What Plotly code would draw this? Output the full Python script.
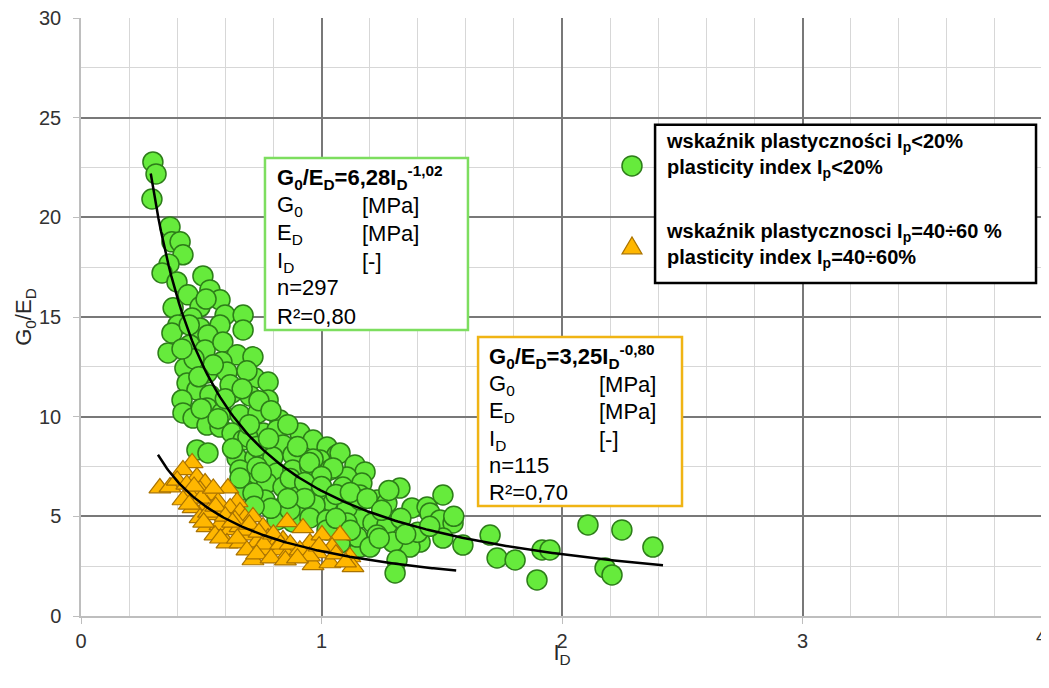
import numpy as np
import plotly.graph_objects as go

# ---- data: plasticity index Ip < 20 % (green circles) ----
green_x = [0.299, 0.312, 0.295, 0.370, 0.378, 0.412, 0.424, 0.366, 0.337, 0.507,
           0.399, 0.536, 0.445, 0.578, 0.383, 0.495, 0.599, 0.674, 0.462, 0.403,
           0.578, 0.674, 0.495, 0.528, 0.378, 0.362, 0.453, 0.516, 0.590, 0.649,
           0.715, 0.586, 0.432, 0.524, 0.607, 0.723, 0.778, 0.441, 0.482, 0.536,
           0.628, 0.703, 0.778, 0.420, 0.424, 0.524, 0.586, 0.661, 0.736, 0.827,
           0.466, 0.524, 0.578, 0.628, 0.674, 0.757, 0.815, 0.840, 0.911, 0.965,
           1.023, 1.064, 0.649, 0.723, 0.798, 0.881, 0.994, 0.661, 0.732, 0.815,
           0.881, 0.952, 1.035, 0.690, 0.773, 0.840, 0.898, 0.965, 1.023, 0.765,
           0.840, 0.923, 0.994, 1.048, 0.815, 0.881, 0.482, 0.528, 0.694, 1.077,
           1.139, 1.181, 1.106, 1.168, 1.231, 1.326, 1.272, 1.376, 1.439, 0.682,
           0.973, 1.098, 1.160, 1.214, 1.272, 0.952, 1.048, 1.160, 1.023, 1.505,
           1.451, 1.493, 1.547, 1.588, 1.505, 1.410, 1.368, 1.297, 1.231, 1.160,
           1.314, 1.306, 1.701, 1.730, 1.805, 1.896, 1.917, 1.950, 2.108, 2.249,
           2.378, 2.179, 2.208, 0.661, 0.965, 1.106, 1.160, 0.869, 1.023, 1.106,
           1.148, 1.077, 1.202, 0.715, 1.089,
           0.470, 0.550, 0.620, 0.690, 0.500, 0.600, 0.700, 0.740, 0.790, 0.860,
           0.630, 0.730, 0.780, 0.900, 0.950, 1.000, 0.750, 0.870, 0.930, 1.000,
           1.060, 1.120, 1.190, 1.250, 1.330, 1.400, 0.930, 0.860, 0.790, 0.720,
           1.060, 1.120, 1.240, 1.350, 1.450, 1.550, 0.450, 0.520, 0.420, 0.490,
           0.570, 0.670, 1.280]
green_y = [22.78, 22.18, 20.92, 19.52, 18.77, 18.77, 18.12, 17.66, 17.21, 17.06,
           16.76, 16.36, 16.11, 15.86, 15.46, 15.51, 15.10, 15.10, 14.95, 14.60,
           14.60, 14.35, 14.45, 14.10, 14.20, 13.20, 13.60, 13.35, 13.75, 13.10,
           13.00, 12.75, 12.44, 12.19, 12.24, 11.94, 11.74, 11.69, 11.34, 11.09,
           11.19, 11.04, 10.84, 10.84, 10.19, 10.44, 10.19, 10.09, 10.19, 9.83,
           9.93, 9.58, 9.48, 9.18, 8.83, 9.18, 9.33, 8.58, 9.18, 8.83,
           8.48, 8.08, 7.93, 7.93, 7.98, 8.08, 7.83, 7.33, 7.48, 7.18,
           7.33, 7.48, 7.33, 6.67, 6.67, 6.47, 6.17, 6.32, 5.97, 5.82,
           5.47, 5.32, 5.22, 5.67, 4.82, 4.72, 8.33, 8.18, 8.98, 8.18,
           7.58, 7.23, 6.97, 6.67, 5.82, 6.42, 5.67, 5.42, 5.47, 6.32,
           5.57, 5.22, 4.92, 4.67, 4.57, 4.92, 7.43, 6.07, 4.82, 6.07,
           5.17, 4.82, 4.67, 3.56, 3.91, 3.71, 3.46, 3.71, 4.06, 3.46,
           2.81, 2.16, 4.06, 2.91, 2.81, 1.81, 3.31, 3.31, 4.57, 4.32,
           3.46, 2.41, 2.06, 6.92, 7.88, 5.42, 5.82, 5.32, 4.32, 4.67,
           3.96, 3.66, 3.46, 6.17, 6.47,
           12.90, 12.60, 11.60, 12.30, 10.40, 10.90, 9.60, 10.80, 10.30, 9.60,
           8.40, 8.50, 8.90, 8.50, 7.70, 7.00, 7.20, 6.90, 6.70, 6.50,
           6.10, 6.20, 5.90, 5.30, 4.90, 4.20, 5.90, 5.90, 5.40, 5.50,
           4.90, 4.30, 3.90, 4.10, 4.50, 5.00, 14.60, 15.90, 13.40, 12.00,
           9.90, 11.40, 6.30]

# ---- data: plasticity index Ip = 40-60 % (orange triangles) ----
orange_x = [0.462, 0.424, 0.328, 0.370, 0.482, 0.516, 0.495, 0.453, 0.424, 0.545,
            0.611, 0.570, 0.524, 0.466, 0.649, 0.620, 0.495, 0.565, 0.661, 0.682,
            0.715, 0.524, 0.578, 0.620, 0.661, 0.703, 0.757, 0.732, 0.607, 0.661,
            0.778, 0.798, 0.715, 0.773, 0.840, 0.857, 0.923, 0.827, 0.881, 0.857,
            0.952, 1.002, 1.077, 0.981, 1.044, 0.965, 1.035, 1.118, 1.131, 0.557,
            0.640,
            0.400, 0.440, 0.500, 0.530, 0.560, 0.600, 0.630, 0.680, 0.700, 0.740,
            0.760, 0.800, 0.830, 0.870, 0.910, 0.950, 0.990, 1.060, 1.100, 0.580,
            0.650, 0.690, 0.730, 0.790, 0.850, 0.900, 0.550, 0.470, 0.510, 0.450]
orange_y = [7.68, 7.33, 6.42, 6.47, 6.97, 6.67, 6.32, 6.07, 5.82, 6.07,
            6.42, 5.72, 5.57, 5.42, 5.72, 5.42, 4.92, 5.07, 5.22, 4.92,
            4.97, 4.47, 4.57, 4.32, 4.47, 4.06, 4.47, 3.71, 3.66, 3.66,
            3.91, 3.46, 2.81, 3.31, 3.81, 4.72, 4.42, 3.31, 3.41, 3.06,
            3.66, 4.06, 4.06, 3.16, 3.46, 2.56, 2.66, 2.96, 2.46, 4.06,
            4.82,
            6.80, 6.60, 5.90, 5.20, 5.50, 5.00, 4.70, 4.30, 4.60, 4.20,
            3.60, 4.10, 3.60, 3.60, 3.30, 3.00, 3.50, 3.10, 2.70, 3.90,
            3.90, 3.30, 3.10, 2.90, 2.80, 2.90, 6.40, 6.50, 4.70, 5.60]

# ---- power-law fits shown on the chart: y = a * x^b ----
fit_green = dict(a=6.28, b=-1.02, x_from=0.29, x_to=2.42)
fit_orange = dict(a=3.25, b=-0.80, x_from=0.32, x_to=1.56)

x_ticks = [0, 1, 2, 3, 4]
y_ticks = [0, 5, 10, 15, 20, 25, 30]

FONT = "Liberation Sans, Arial, sans-serif"
GREEN_FILL = "rgb(102,235,60)"
GREEN_LINE = "rgb(45,125,25)"
ORANGE_FILL = "rgb(255,183,0)"
ORANGE_LINE = "rgb(170,115,0)"
TICK_COLOR = "rgb(50,50,50)"

fig = go.Figure()

fig.add_trace(go.Scatter(
    x=green_x, y=green_y, mode="markers",
    marker=dict(symbol="circle", size=20, color=GREEN_FILL,
                line=dict(color=GREEN_LINE, width=1.5)),
    showlegend=False, hoverinfo="x+y"))

fig.add_trace(go.Scatter(
    x=orange_x, y=orange_y, mode="markers",
    marker=dict(symbol="triangle-up", size=19, color=ORANGE_FILL,
                line=dict(color=ORANGE_LINE, width=1.2)),
    showlegend=False, hoverinfo="x+y"))

for f in (fit_green, fit_orange):
    xs = np.linspace(f["x_from"], f["x_to"], 200)
    ys = f["a"] * xs ** f["b"]
    fig.add_trace(go.Scatter(x=xs, y=ys, mode="lines",
                             line=dict(color="black", width=2.5),
                             showlegend=False, hoverinfo="skip"))

# ---- equation boxes ----
def eq_box(x0, x1, y0, y1, color, lines, xl, xu, ys, size=22):
    fig.add_shape(type="rect", xref="x", yref="y", x0=x0, x1=x1, y0=y0, y1=y1,
                  line=dict(color=color, width=2.5), fillcolor="white", layer="above")
    for (left, unit), yy in zip(lines, ys):
        fig.add_annotation(x=xl, y=yy, xref="x", yref="y", text=left, showarrow=False,
                           xanchor="left", yanchor="middle",
                           font=dict(family=FONT, size=size, color="black"))
        if unit:
            fig.add_annotation(x=xu, y=yy, xref="x", yref="y", text=unit, showarrow=False,
                               xanchor="left", yanchor="middle",
                               font=dict(family=FONT, size=size, color="black"))

lines1 = [("<b>G<sub>0</sub>/E<sub>D</sub>=6,28I<sub>D</sub><sup>-1,02</sup></b>", ""),
          ("G<sub>0</sub>", "[MPa]"), ("E<sub>D</sub>", "[MPa]"), ("I<sub>D</sub>", "[-]"),
          ("n=297", ""), ("R²=0,80", "")]
eq_box(0.765, 1.609, 14.35, 22.98, "rgb(125,222,95)", lines1, 0.805, 1.160,
       [21.98, 20.57, 19.17, 17.76, 16.46, 15.05])

lines2 = [("<b>G<sub>0</sub>/E<sub>D</sub>=3,25I<sub>D</sub><sup>-0,80</sup></b>", ""),
          ("G<sub>0</sub>", "[MPa]"), ("E<sub>D</sub>", "[MPa]"), ("I<sub>D</sub>", "[-]"),
          ("n=115", ""), ("R²=0,70", "")]
eq_box(1.651, 2.499, 5.52, 14.0, "rgb(240,180,20)", lines2, 1.690, 2.146,
       [13.0, 11.59, 10.24, 8.83, 7.53, 6.22])

# ---- custom legend ----
fig.add_shape(type="rect", xref="x", yref="y", x0=2.387, x1=3.971, y0=16.71, y1=24.64,
              line=dict(color="black", width=2.5), fillcolor="white", layer="above")
fig.add_annotation(x=2.425, y=23.1, xref="x", yref="y", showarrow=False,
                   xanchor="left", yanchor="middle", align="left",
                   text="<b>wskaźnik plastyczności I<sub>p</sub>&lt;20%<br>plasticity index I<sub>p</sub>&lt;20%</b>",
                   font=dict(family=FONT, size=20, color="black"))
fig.add_annotation(x=2.425, y=18.61, xref="x", yref="y", showarrow=False,
                   xanchor="left", yanchor="middle", align="left",
                   text="<b>wskaźnik plastycznosci I<sub>p</sub>=40÷60 %<br>plasticity index I<sub>p</sub>=40÷60%</b>",
                   font=dict(family=FONT, size=20, color="black"))
fig.add_shape(type="circle", xref="x", yref="y", xsizemode="pixel", ysizemode="pixel",
              xanchor=2.291, yanchor=22.58, x0=-10, x1=10, y0=-10, y1=10,
              fillcolor=GREEN_FILL, line=dict(color=GREEN_LINE, width=1.5), layer="above")
fig.add_shape(type="path", xref="x", yref="y", xsizemode="pixel", ysizemode="pixel",
              xanchor=2.291, yanchor=18.52, path="M -10 -7 L 10 -7 L 0 10 Z",
              fillcolor=ORANGE_FILL, line=dict(color=ORANGE_LINE, width=1.2), layer="above")

# last x tick label drawn as an annotation so it is not clipped at the plot edge
x_ticktext = [str(v) for v in x_ticks[:-1]] + [""]
fig.add_annotation(x=x_ticks[-1], y=0, xref="x", yref="paper", showarrow=False,
                   text=str(x_ticks[-1]), xanchor="center", yanchor="top", yshift=-7,
                   xshift=-2, font=dict(family=FONT, size=20, color=TICK_COLOR))

# the page body adds an 8 px offset, so the figure is sized to fit the window
fig.update_layout(
    width=1041, height=660,
    margin=dict(l=73, r=6, t=10, b=52),
    plot_bgcolor="white", paper_bgcolor="white",
    font=dict(family=FONT, size=20, color=TICK_COLOR),
    xaxis=dict(range=[0, 4], tickvals=x_ticks, ticktext=x_ticktext,
               automargin=False, ticklabeloverflow="allow",
               showgrid=True, gridcolor="rgb(120,120,120)", gridwidth=1.5,
               minor=dict(dtick=0.2, showgrid=True, gridcolor="rgb(215,215,215)", gridwidth=1),
               zeroline=False, showline=True, linecolor="rgb(190,190,190)", linewidth=1.5,
               ticks="outside", ticklen=6, tickcolor="rgb(190,190,190)",
               tickfont=dict(size=20, color=TICK_COLOR),
               title=dict(text="I<sub>D</sub>", font=dict(size=22, color="rgb(40,40,40)"), standoff=0)),
    yaxis=dict(range=[0, 30], tickvals=y_ticks, ticktext=[str(v) for v in y_ticks],
               automargin=False, ticklabeloverflow="allow",
               showgrid=True, gridcolor="rgb(120,120,120)", gridwidth=1.5,
               minor=dict(dtick=2.5, showgrid=True, gridcolor="rgb(215,215,215)", gridwidth=1),
               zeroline=False, showline=True, linecolor="rgb(190,190,190)", linewidth=1.5,
               ticks="outside", ticklen=6, tickcolor="rgb(190,190,190)",
               ticklabelstandoff=8,
               tickfont=dict(size=20, color=TICK_COLOR),
               title=dict(text="G<sub>0</sub>/E<sub>D</sub>", font=dict(size=22, color="rgb(40,40,40)"), standoff=1)),
)

fig.write_html("out.html")
